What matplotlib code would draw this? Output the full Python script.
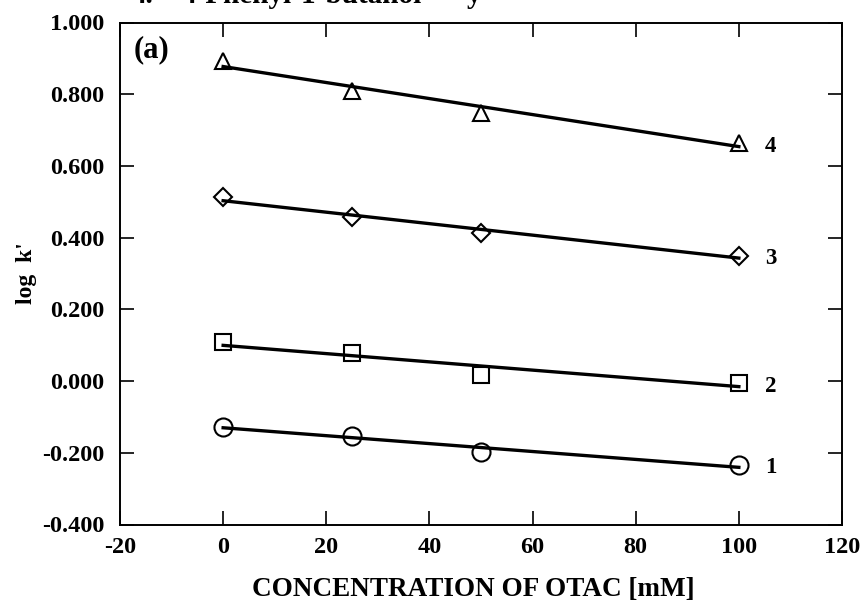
import numpy as np
import matplotlib
matplotlib.use("Agg")
import matplotlib.pyplot as plt

plt.rcParams["font.family"] = ["Liberation Serif", "DejaVu Serif"]
plt.rcParams["font.weight"] = "bold"
plt.rcParams["axes.unicode_minus"] = False

# OTAC concentration [mM]
conc = [0, 25, 50, 100]

# log k' for the four solutes
series_1 = [-0.127, -0.153, -0.199, -0.235]
series_2 = [0.108, 0.077, 0.016, -0.004]
series_3 = [0.513, 0.457, 0.412, 0.350]
series_4 = [0.894, 0.810, 0.749, 0.665]

series_labels = ["1", "2", "3", "4"]
markers = ["o", "s", "D", "^"]
marker_sizes = [13, 12, 9, 12]

xticks = [-20, 0, 20, 40, 60, 80, 100, 120]
yticks = [-0.4, -0.2, 0.0, 0.2, 0.4, 0.6, 0.8, 1.0]

fig = plt.figure(figsize=(8.67, 6.02), dpi=100)
ax = fig.add_axes([120 / 867, 1 - 524.5 / 602, 722 / 867, 502 / 602])

x = np.array(conc, dtype=float)
for ys, lab, mk, ms in zip([series_1, series_2, series_3, series_4],
                           series_labels, markers, marker_sizes):
    ys = np.array(ys)
    slope, icpt = np.polyfit(x, ys, 1)
    xf = np.array([x.min(), x.max()])
    ax.plot(xf, icpt + slope * xf, color="black", lw=2.4, zorder=2)
    ax.plot(x, ys, linestyle="none", marker=mk, ms=ms, mfc="none",
            mec="black", mew=1.5, zorder=3)
    ax.text(105.0, icpt + slope * 100, lab, fontsize=16.5, fontweight="bold",
            va="center", ha="left")

ax.set_xlim(-20, 120)
ax.set_ylim(-0.4, 1.0)
ax.set_xticks(xticks)
ax.set_yticks(yticks)
ax.set_xticklabels([str(v) for v in xticks])
ax.set_yticklabels([f"{v:.3f}" for v in yticks])
ax.tick_params(direction="in", length=10, width=1.2, top=True, right=True,
               labelsize=17.5)
ax.tick_params(axis="x", pad=9)
ax.tick_params(axis="y", pad=11)
for lbl in ax.get_xticklabels() + ax.get_yticklabels():
    lbl.set_fontweight("bold")
for sp in ax.spines.values():
    sp.set_linewidth(1.4)

ax.set_xlabel("CONCENTRATION OF OTAC [mM]", fontsize=19.5, fontweight="bold",
              labelpad=13)
ax.xaxis.set_label_coords(0.49, -0.105)
ax.set_ylabel("log  k'", fontsize=17, fontweight="bold", labelpad=4)
ax.text(14 / 722, 1 - 13 / 502, "(a)", transform=ax.transAxes, fontsize=22,
        fontweight="bold", va="top", ha="left")

# heading line above the frame
top = 1 - 3 / 602
fig.text(132 / 867, top, "4.", fontsize=21, fontweight="bold",
         va="baseline", ha="left")
fig.text(182 / 867, top, "4-Phenyl-1-butanol", fontsize=21,
         fontweight="bold", va="baseline", ha="left")
fig.text(467 / 867, top, "y", fontsize=21, fontweight="bold",
         va="baseline", ha="left")

fig.savefig("out.png", dpi=100)
